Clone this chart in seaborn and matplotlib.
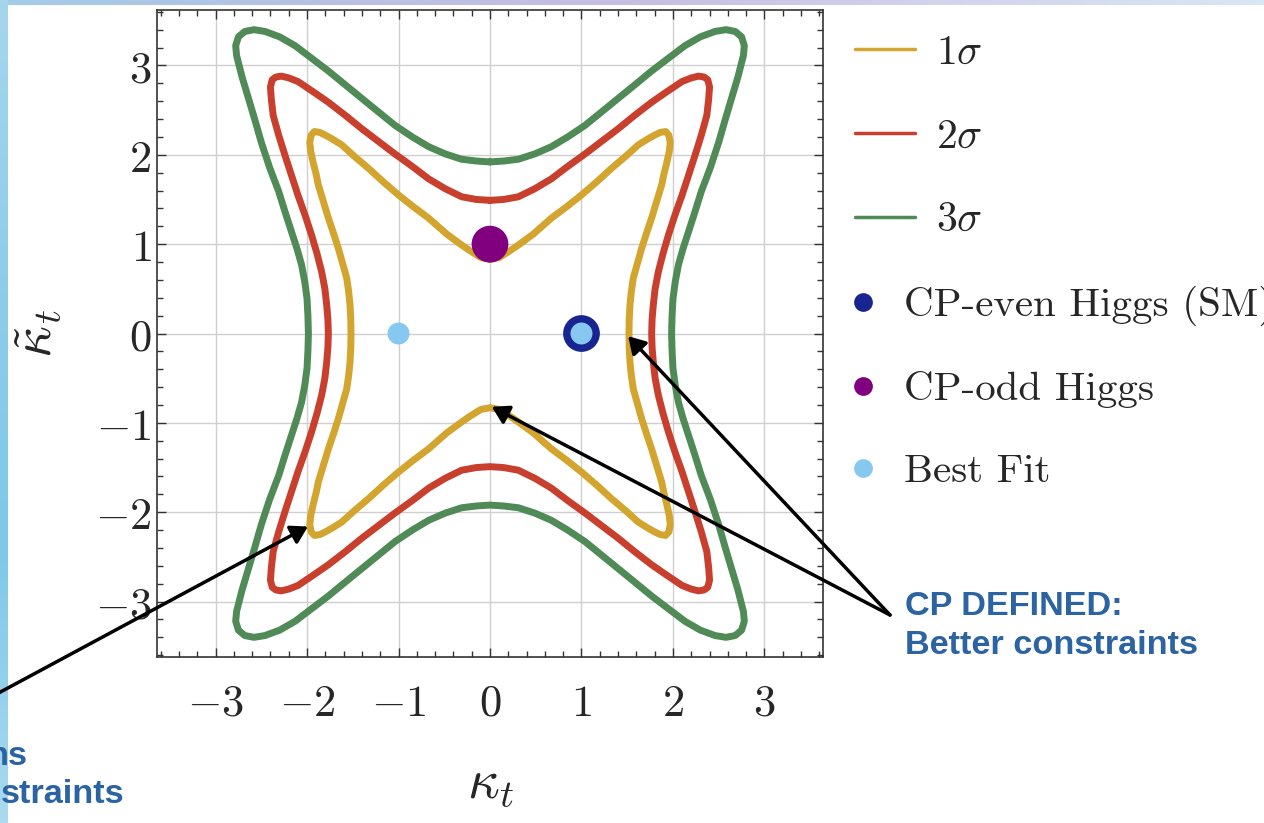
"""
CP structure of the top Yukawa: kappa_t vs kappa~_t confidence contours.
"""

import matplotlib
matplotlib.use("Agg")  # Non-interactive backend
import matplotlib.pyplot as plt
from matplotlib.colors import LinearSegmentedColormap
from matplotlib.lines import Line2D
from matplotlib.ticker import MultipleLocator
import numpy as np
import pandas as pd
import seaborn as sns

# ── Style ─────────────────────────────────────────────────────────
sns.set_theme(style="ticks")
plt.rcParams["mathtext.fontset"] = "cm"
plt.rcParams["font.family"] = ["DejaVu Sans"]

W, H = 1264, 823

# ── Data (upper-right quadrant of each contour, top-middle -> right-middle) ──
K_1SIGMA = [0.00, 0.10, 0.21, 0.31, 0.47, 0.67, 0.84, 1.00, 1.17, 1.33, 1.48, 1.62,
            1.73, 1.80, 1.86, 1.92, 1.955, 1.97, 1.96, 1.93, 1.90, 1.876, 1.82,
            1.766, 1.71, 1.657, 1.61, 1.566, 1.545, 1.53, 1.522, 1.519]
KT_1SIGMA = [0.83, 0.85, 0.92, 0.99, 1.11, 1.29, 1.42, 1.55, 1.70, 1.85, 1.98, 2.11,
             2.18, 2.22, 2.25, 2.26, 2.22, 2.14, 2.04, 1.90, 1.78, 1.66, 1.47,
             1.29, 1.12, 0.95, 0.78, 0.62, 0.47, 0.32, 0.16, 0.00]

K_2SIGMA = [0.00, 0.15, 0.31, 0.49, 0.67, 0.85, 1.04, 1.22, 1.40, 1.58, 1.77, 1.94,
            2.10, 2.20, 2.28, 2.34, 2.38, 2.40, 2.39, 2.37, 2.31, 2.24, 2.17, 2.10,
            2.02, 1.95, 1.89, 1.84, 1.805, 1.785, 1.772, 1.767]
KT_2SIGMA = [1.49, 1.50, 1.53, 1.62, 1.73, 1.87, 2.01, 2.15, 2.29, 2.44, 2.59, 2.71,
             2.82, 2.86, 2.88, 2.87, 2.84, 2.76, 2.62, 2.44, 2.22, 1.99, 1.77, 1.55,
             1.32, 1.10, 0.89, 0.69, 0.50, 0.32, 0.16, 0.00]

K_3SIGMA = [0.00, 0.15, 0.31, 0.49, 0.67, 0.85, 1.04, 1.22, 1.40, 1.58, 1.77, 1.95,
            2.13, 2.30, 2.46, 2.58, 2.68, 2.75, 2.78, 2.77, 2.71, 2.64, 2.57, 2.50,
            2.41, 2.31, 2.24, 2.17, 2.11, 2.06, 2.025, 2.00, 1.99, 1.985]
KT_3SIGMA = [1.92, 1.93, 1.95, 2.01, 2.09, 2.20, 2.33, 2.48, 2.63, 2.78, 2.94, 3.08,
             3.22, 3.32, 3.38, 3.40, 3.38, 3.32, 3.22, 3.11, 2.87, 2.63, 2.39, 2.14,
             1.86, 1.59, 1.36, 1.14, 0.95, 0.77, 0.58, 0.39, 0.19, 0.00]

LEVEL_LABELS = [r"$1\sigma$", r"$2\sigma$", r"$3\sigma$"]
LEVEL_COLORS = ["#D3A42E", "#C8402D", "#4F8A57"]

SM_POINT = ([1.0], [0.0])        # CP-even Higgs (SM)
CP_ODD_POINT = ([0.0], [1.0])    # CP-odd Higgs
BEST_FIT_K = [-1.0, 1.0]
BEST_FIT_KT = [0.0, 0.0]

POINT_LABELS = ["CP-even Higgs (SM)", "CP-odd Higgs", "Best Fit"]
POINT_COLORS = ["#182590", "#800080", "#86C8F0"]

TICKS = [-3, -2, -1, 0, 1, 2, 3]
TEXT_BLUE = "#2C63A2"


def full_loop(k, kt):
    """Close a quadrant curve using the plot's mirror symmetry."""
    k, kt = np.asarray(k), np.asarray(kt)
    xs = np.concatenate([k, k[::-1], -k, -k[::-1]])
    ys = np.concatenate([kt, -kt[::-1], -kt, kt[::-1]])
    return pd.DataFrame({"kappa": xs, "kappa_tilde": ys})


# ── Figure ────────────────────────────────────────────────────────
fig = plt.figure(figsize=(W / 100, H / 100), dpi=100)
fig.patch.set_facecolor("white")

# slide background strips (left and top)
grad = np.linspace(0, 1, 256).reshape(1, -1)
top_cmap = LinearSegmentedColormap.from_list(
    "top", ["#A3CBE8", "#B7C1E4", "#C7BEE2", "#D2D4EC", "#D9E6F3"])
left_cmap = LinearSegmentedColormap.from_list(
    "left", ["#A6D6EE", "#8FCDEA", "#7FC8E8", "#A9DAF0"])
bg_top = fig.add_axes([0, 1 - 5 / H, 1, 5 / H], zorder=-5)
bg_top.imshow(grad, aspect="auto", cmap=top_cmap)
bg_top.axis("off")
bg_left = fig.add_axes([0, 0, 8 / W, 1], zorder=-5)
bg_left.imshow(grad.T, aspect="auto", cmap=left_cmap)
bg_left.axis("off")

ax = fig.add_axes([157 / W, 1 - 657 / H, 666 / W, 647 / H])
ax.set_facecolor("white")

curves = [(K_3SIGMA, KT_3SIGMA, LEVEL_COLORS[2]),
          (K_2SIGMA, KT_2SIGMA, LEVEL_COLORS[1]),
          (K_1SIGMA, KT_1SIGMA, LEVEL_COLORS[0])]
for k, kt, color in curves:
    sns.lineplot(data=full_loop(k, kt), x="kappa", y="kappa_tilde", sort=False,
                 estimator=None, color=color, linewidth=5, ax=ax, legend=False,
                 solid_joinstyle="round", solid_capstyle="round", zorder=3)

sns.scatterplot(x=CP_ODD_POINT[0], y=CP_ODD_POINT[1], s=700, color=POINT_COLORS[1],
                edgecolor="none", ax=ax, zorder=5, legend=False)
sns.scatterplot(x=SM_POINT[0], y=SM_POINT[1], s=700, color=POINT_COLORS[0],
                edgecolor="none", ax=ax, zorder=5, legend=False)
sns.scatterplot(x=BEST_FIT_K, y=BEST_FIT_KT, s=250, color=POINT_COLORS[2],
                edgecolor="none", ax=ax, zorder=6, legend=False)

ax.set_xlim(-3.64, 3.64)
ax.set_ylim(-3.62, 3.62)
ax.set_xticks(TICKS)
ax.set_yticks(TICKS)
ax.set_xticklabels([f"${t}$" for t in TICKS], fontsize=32)
ax.set_yticklabels([f"${t}$" for t in TICKS], fontsize=32)
ax.xaxis.set_minor_locator(MultipleLocator(0.2))
ax.yaxis.set_minor_locator(MultipleLocator(0.2))
ax.tick_params(which="both", direction="in", top=True, right=True,
               color="#333333", width=1)
ax.tick_params(which="major", length=6.5)
ax.tick_params(which="minor", length=4)
ax.tick_params(axis="x", which="major", pad=18)
ax.tick_params(axis="y", which="major", pad=4)
ax.grid(True, which="major", color="#CFCFCF", linewidth=1)
ax.set_axisbelow(True)
for sp in ax.spines.values():
    sp.set_color("#333333")
    sp.set_linewidth(1.2)

ax.set_xlabel(r"$\kappa_t$", fontsize=40)
ax.set_ylabel(r"$\tilde{\kappa}_t$", fontsize=40)
ax.xaxis.set_label_coords(0.5, -0.153)
ax.yaxis.set_label_coords(-0.14, 0.5)

# ── Legends ───────────────────────────────────────────────────────
line_handles = [Line2D([], [], color=c, linewidth=2.5) for c in LEVEL_COLORS]
fig.legend(line_handles, LEVEL_LABELS, loc="upper left",
           bbox_to_anchor=(855 / W, 1 - 31 / H), frameon=False,
           prop={"size": 30}, handlelength=1.45, handletextpad=0.5,
           labelspacing=1.0, borderpad=0, borderaxespad=0)

point_handles = [Line2D([], [], linestyle="none", marker="o", markersize=13.5,
                        markerfacecolor=c, markeredgecolor="none") for c in POINT_COLORS]
fig.legend(point_handles, POINT_LABELS, loc="upper left",
           bbox_to_anchor=(853 / W, 1 - 286 / H), frameon=False,
           prop={"family": "cmr10", "size": 29.5}, handlelength=0.5,
           handletextpad=0.75, labelspacing=1.1, borderpad=0, borderaxespad=0)

# ── Annotations ───────────────────────────────────────────────────
arrow = dict(arrowstyle="-|>,head_length=0.5,head_width=0.3", color="black",
             lw=2.5, mutation_scale=20, shrinkA=0, shrinkB=0)
tail_right = (890 / W, 1 - 615 / H)
ax.annotate("", xy=(1.51, -0.03), xytext=tail_right, textcoords="figure fraction",
            arrowprops=arrow, annotation_clip=False)
ax.annotate("", xy=(0.02, -0.82), xytext=tail_right, textcoords="figure fraction",
            arrowprops=arrow, annotation_clip=False)
ax.annotate("", xy=(-1.99, -2.16), xytext=(-20 / W, 1 - 703 / H),
            textcoords="figure fraction", arrowprops=arrow, annotation_clip=False)

note = dict(family="Liberation Sans", weight="bold", fontsize=24.7, color=TEXT_BLUE,
            va="baseline")
fig.text(905 / W, 1 - 615 / H, "CP DEFINED:", ha="left", **note)
fig.text(905 / W, 1 - 654 / H, "Better constraints", ha="left", **note)
fig.text(28 / W, 1 - 765 / H, "ns", ha="right", **note)
fig.text(124 / W, 1 - 803 / H, "straints", ha="right", **note)

fig.savefig("out.png", dpi=100)
